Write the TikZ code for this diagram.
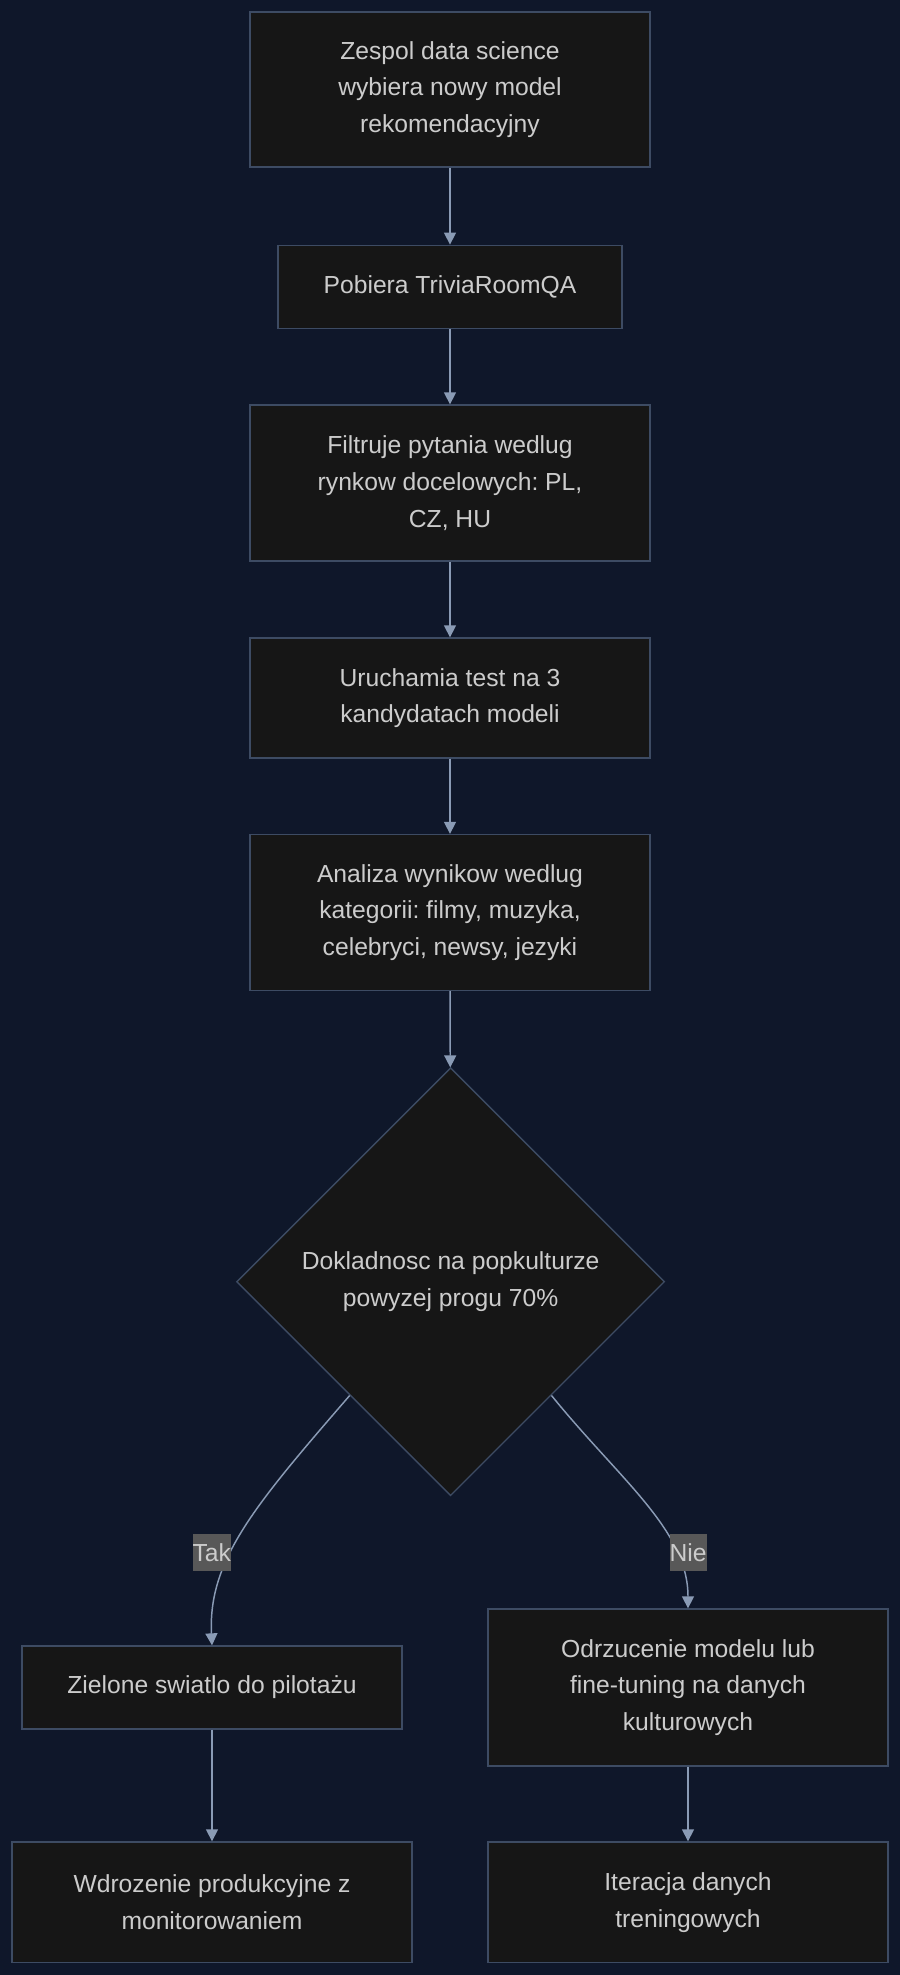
\documentclass[tikz,border=0pt]{standalone}
\usepackage{fontspec}
\setmainfont{Liberation Sans}
\usetikzlibrary{shapes.geometric,arrows.meta,calc}
\definecolor{bgc}{HTML}{0F172A}
\definecolor{nodec}{HTML}{161616}
\definecolor{bordc}{HTML}{3D4B63}
\definecolor{arrc}{HTML}{8A9BB5}
\definecolor{txtc}{HTML}{CCCCCC}
\definecolor{lblc}{HTML}{585858}
\frenchspacing
\begin{document}
\begin{tikzpicture}[x=0.75pt,y=0.75pt,
  box/.style={draw=bordc, fill=nodec, line width=1pt, text=txtc, align=center,
    font=\fontsize{18.5}{27.5}\selectfont, inner sep=0pt},
  dia/.style={diamond, draw=bordc, fill=nodec, line width=1pt, text=txtc, align=center,
    font=\fontsize{18.5}{27.5}\selectfont, inner sep=0pt, aspect=1,
    minimum width=321pt, minimum height=321pt},
  arr/.style={draw=arrc, line width=1.1pt, -{Triangle[length=9pt,width=9pt]}},
  lbl/.style={fill=lblc, text=txtc, font=\fontsize{18.5}{27.5}\selectfont,
    inner xsep=0pt, inner ysep=0pt, minimum height=27.75pt, text height=13.3pt, text depth=0pt}
]
\useasboundingbox[fill=bgc] (0,0) rectangle (900,-1975);

\node[box, minimum width=300pt, minimum height=116.25pt] (b1) at (450,-89.5)
  {Zespol data science\\wybiera nowy model\\rekomendacyjny};
\node[box, minimum width=258pt, minimum height=62.6pt] (b2) at (450,-287)
  {Pobiera TriviaRoomQA};
\node[box, minimum width=300pt, minimum height=117pt] (b3) at (450,-483)
  {Filtruje pytania wedlug\\rynkow docelowych: PL,\\CZ, HU};
\node[box, minimum width=300pt, minimum height=90pt] (b4) at (450,-698)
  {Uruchamia test na 3\\kandydatach modeli};
\node[box, minimum width=300pt, minimum height=117pt] (b5) at (450,-912.5)
  {Analiza wynikow wedlug\\kategorii: filmy, muzyka,\\celebryci, newsy, jezyki};
\node[dia] (d) at (450.6,-1281.7)
  {Dokladnosc na popkulturze\\powyzej progu 70\%};
\node[box, minimum width=285pt, minimum height=62.25pt] (b6) at (212,-1687.5)
  {Zielone swiatlo do pilotażu};
\node[box, minimum width=300pt, minimum height=117.75pt] (b7) at (688,-1687.5)
  {Odrzucenie modelu lub\\fine-tuning na danych\\kulturowych};
\node[box, minimum width=300pt, minimum height=90.5pt] (b8) at (212,-1902.3)
  {Wdrozenie produkcyjne z\\monitorowaniem};
\node[box, minimum width=300pt, minimum height=90.5pt] (b9) at (688,-1902.3)
  {Iteracja danych\\treningowych};

\draw[arr] (b1) -- (b2);
\draw[arr] (b2) -- (b3);
\draw[arr] (b3) -- (b4);
\draw[arr] (b4) -- (b5);
\draw[arr] (b5) -- (d);
\coordinate (ts) at ($(d.west)!0.53!(d.south)$);
\coordinate (ns) at ($(d.east)!0.53!(d.south)$);
\draw[arr] (ts) .. controls (255,-1505) and (208,-1560) .. (b6.north);
\draw[arr] (ns) .. controls (620,-1480) and (688,-1530) .. (b7.north);
\draw[arr] (b6) -- (b8);
\draw[arr] (b7) -- (b9);

\node[lbl] (lt) at (211.8,-1552.3) {Tak};
\node[lbl] (ln) at (688,-1552.3) {Nie};
\end{tikzpicture}
\end{document}
